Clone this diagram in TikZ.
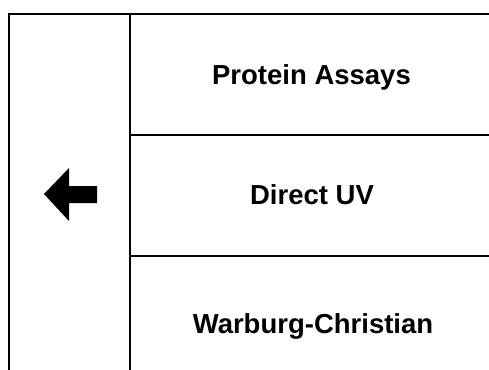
\documentclass[tikz,border=0pt]{standalone}
\usepackage{fontspec}
\setmainfont{Liberation Sans}
\begin{document}
\begin{tikzpicture}[x=1pt,y=-1pt,
  rule/.style={line width=2pt,black},
  label/.style={font=\fontsize{27.5}{30}\selectfont\bfseries,anchor=base,inner sep=0pt}]
\useasboundingbox (0,0) rectangle (489,369);
\coordinate (tl) at (9,14);
\coordinate (tr) at (490,14);
\coordinate (bl) at (9,370);
\coordinate (mt) at (130,14);
\coordinate (mb) at (130,370);
\coordinate (h1l) at (130,135);
\coordinate (h1r) at (490,135);
\coordinate (h2l) at (130,256);
\coordinate (h2r) at (490,256);
\draw[rule] (bl) -- (tl) -- (tr);
\draw[rule] (mt) -- (mb);
\draw[rule] (h1l) -- (h1r);
\draw[rule] (h2l) -- (h2r);
\fill[black] (44,194) -- (69,168) -- (69,186) -- (97,186) -- (97,203) -- (69,203) -- (69,221) -- cycle;
\node[label] (pa) at (311.5,84) {Protein Assays};
\node[label] (uv) at (312,204) {Direct UV};
\node[label] (wc) at (313,333) {Warburg-Christian};
\end{tikzpicture}
\end{document}
